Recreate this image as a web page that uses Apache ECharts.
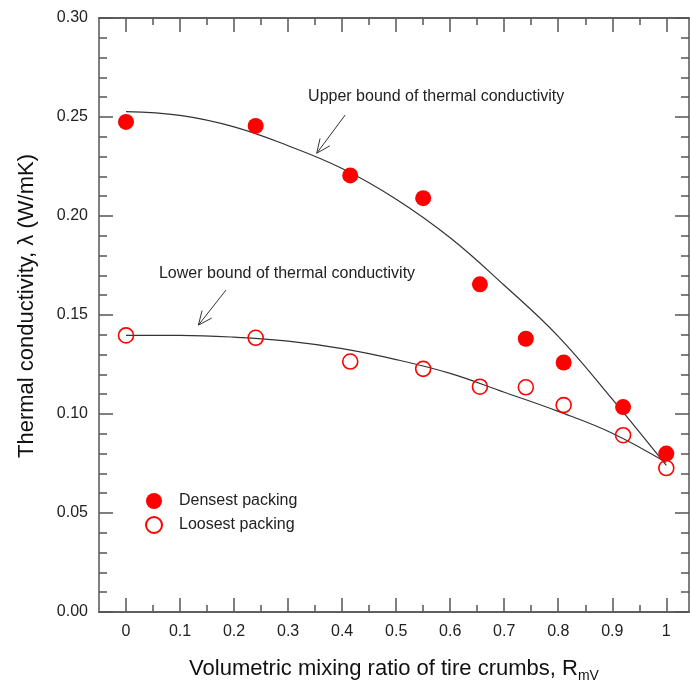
<!DOCTYPE html>
<html>
<head>
<meta charset="utf-8">
<script src="https://cdn.jsdelivr.net/npm/echarts@6/dist/echarts.min.js"></script>
<style>
html,body{margin:0;padding:0;background:#fff;}
#c{width:690px;height:684px;}
</style>
</head>
<body>
<div id="c"></div>
<script>
// ---- data ----
const ratio   = [0, 0.24, 0.415, 0.55, 0.655, 0.74, 0.81, 0.92, 1.0];
const densest = [0.2475, 0.2455, 0.2205, 0.209, 0.1655, 0.138, 0.126, 0.1035, 0.080];
const loosest = [0.1397, 0.1385, 0.1265, 0.1228, 0.1138, 0.1135, 0.1045, 0.0893, 0.0727];

const fitX     = [0, 0.1, 0.2, 0.3, 0.4, 0.5, 0.6, 0.7, 0.8, 0.9, 1.0];
const upperFit = [0.2527, 0.2508, 0.2450, 0.2355, 0.2240, 0.2085, 0.1890, 0.1650, 0.1392, 0.1075, 0.0740];
const lowerFit = [0.1397, 0.1397, 0.1388, 0.1368, 0.1330, 0.1275, 0.1205, 0.1110, 0.1013, 0.0903, 0.0755];

const xMajorTicks = [0, 0.1, 0.2, 0.3, 0.4, 0.5, 0.6, 0.7, 0.8, 0.9, 1.0];
const xMinorTicks = [0.05, 0.15, 0.25, 0.35, 0.45, 0.55, 0.65, 0.75, 0.85, 0.95];

const seriesNames = ['Densest packing', 'Loosest packing'];
const upperLabel = 'Upper bound of thermal conductivity';
const lowerLabel = 'Lower bound of thermal conductivity';

const zip = (xs, ys) => xs.map((x, i) => [x, ys[i]]);

const FONT = 'Liberation Sans, Arial, sans-serif';
const AXC = '#555';
const TXT = '#222';

function xAx(pos, vals, len, labels) {
  return {
    type: 'value', position: pos, min: -0.05, max: 1.042,
    axisLine: { show: true, onZero: false, lineStyle: { color: AXC, width: 1.5 } },
    splitLine: { show: false },
    axisTick: { show: true, inside: true, length: len, customValues: vals, lineStyle: { color: AXC, width: 1.5 } },
    axisLabel: labels ? {
      show: true, customValues: vals, margin: 12, color: TXT, fontSize: 16, fontFamily: FONT,
      formatter: v => (Math.round(v * 10) / 10).toString()
    } : { show: false }
  };
}

const xAxes = [
  Object.assign(xAx('bottom', xMajorTicks, 14, true), {
    name: '{a|Volumetric mixing ratio of tire crumbs, R}{b|mV}',
    nameLocation: 'middle', nameGap: 43,
    nameTextStyle: {
      rich: {
        a: { fontSize: 22, fontFamily: FONT, color: '#111' },
        b: { fontSize: 14, fontFamily: FONT, color: '#111', padding: [14, 0, 0, 0] }
      }
    }
  }),
  xAx('bottom', xMinorTicks, 7, false),
  xAx('top', xMajorTicks, 14, false),
  xAx('top', xMinorTicks, 7, false)
];

function yAx(pos, labels) {
  return {
    type: 'value', position: pos, min: 0, max: 0.3, interval: 0.05,
    axisLine: { show: true, onZero: false, lineStyle: { color: AXC, width: 1.5 } },
    splitLine: { show: false },
    axisTick: { show: true, inside: true, length: 14, lineStyle: { color: AXC, width: 1.5 } },
    minorTick: { show: true, splitNumber: 5, length: 8, lineStyle: { color: AXC, width: 1.5 } },
    minorSplitLine: { show: false },
    axisLabel: labels ? {
      show: true, margin: 11, color: TXT, fontSize: 16, fontFamily: FONT,
      formatter: v => v.toFixed(2)
    } : { show: false }
  };
}

const yAxes = [
  Object.assign(yAx('left', true), {
    name: 'Thermal conductivity, λ (W/mK)',
    nameLocation: 'middle', nameGap: 61,
    nameTextStyle: { fontSize: 22, fontFamily: FONT, color: '#111', padding: [0, 0, 0, 18] }
  }),
  yAx('right', false)
];

const chart = echarts.init(document.getElementById('c'), null, { renderer: 'canvas' });
chart.setOption({
  animation: false,
  backgroundColor: '#fff',
  grid: { left: 99, right: 1, top: 18, bottom: 72, containLabel: false, outerBoundsMode: 'none' },
  xAxis: xAxes,
  yAxis: yAxes,
  legend: {
    data: seriesNames,
    orient: 'vertical',
    left: 140, top: 488,
    itemWidth: 16, itemHeight: 16, itemGap: 7,
    textStyle: { fontSize: 16, fontFamily: FONT, color: TXT, padding: [0, 0, 0, 12] }
  },
  series: [
    {
      type: 'line', data: zip(fitX, upperFit), smooth: 0.4, showSymbol: false, symbol: 'none',
      lineStyle: { color: '#333', width: 1.2 }, silent: true, z: 2
    },
    {
      type: 'line', data: zip(fitX, lowerFit), smooth: 0.4, showSymbol: false, symbol: 'none',
      lineStyle: { color: '#333', width: 1.2 }, silent: true, z: 2
    },
    {
      name: seriesNames[0], type: 'scatter', data: zip(ratio, densest),
      symbol: 'circle', symbolSize: 16,
      itemStyle: { color: '#ff0000', opacity: 1 }, z: 3
    },
    {
      name: seriesNames[1], type: 'scatter', data: zip(ratio, loosest),
      symbol: 'circle', symbolSize: 15,
      itemStyle: { color: 'rgba(255,255,255,0)', borderColor: '#ff0000', borderWidth: 1.6, opacity: 1 }, z: 3
    }
  ]
});

// annotation text and arrows anchored in data space
function px(x, y) { return chart.convertToPixel({ xAxisIndex: 0, yAxisIndex: 0 }, [x, y]); }
function arrow(tail, head) {
  const t = px(tail[0], tail[1]), h = px(head[0], head[1]);
  const dx = t[0] - h[0], dy = t[1] - h[1];
  const L = Math.hypot(dx, dy), ux = dx / L, uy = dy / L;
  const a = 24 * Math.PI / 180, len = 15;
  const r1 = [h[0] + len * (ux * Math.cos(a) - uy * Math.sin(a)), h[1] + len * (ux * Math.sin(a) + uy * Math.cos(a))];
  const r2 = [h[0] + len * (ux * Math.cos(-a) - uy * Math.sin(-a)), h[1] + len * (ux * Math.sin(-a) + uy * Math.cos(-a))];
  const st = { stroke: '#333', lineWidth: 1, fill: null };
  return [
    { type: 'polyline', shape: { points: [t, h] }, style: st },
    { type: 'polyline', shape: { points: [r1, h, r2] }, style: st }
  ];
}
const up = px(0.337, 0.2601), lo = px(0.061, 0.1707);
chart.setOption({
  graphic: [
    { type: 'text', x: up[0], y: up[1], style: { text: upperLabel, fontSize: 16, fontFamily: FONT, fill: TXT, verticalAlign: 'middle' } },
    { type: 'text', x: lo[0], y: lo[1], style: { text: lowerLabel, fontSize: 16, fontFamily: FONT, fill: TXT, verticalAlign: 'middle' } },
    ...arrow([0.4056, 0.251], [0.353, 0.2317]),
    ...arrow([0.185, 0.1626], [0.134, 0.1449])
  ]
});
</script>
</body>
</html>
